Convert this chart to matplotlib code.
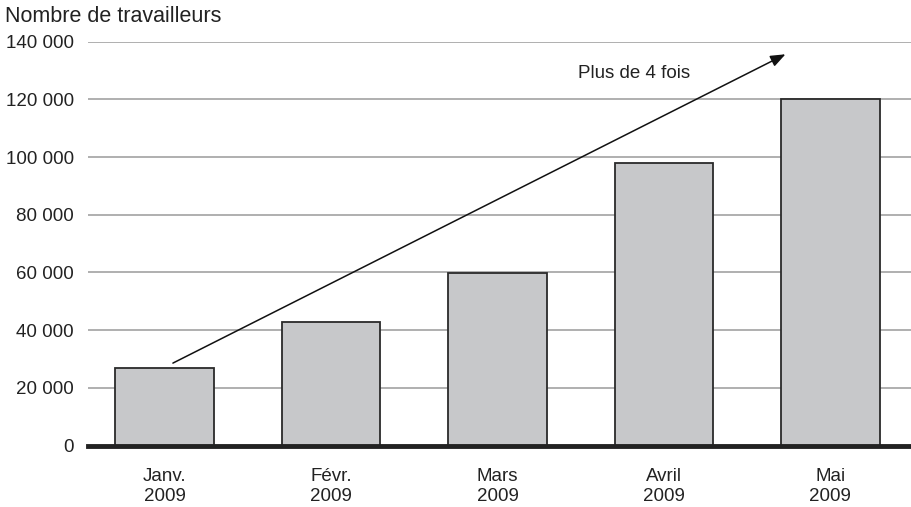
import matplotlib
matplotlib.use("Agg")
import matplotlib.pyplot as plt
import matplotlib.ticker as ticker

plt.rcParams["font.family"] = ["Liberation Sans", "DejaVu Sans"]

MONTHS = ["Janv.\n2009", "Févr.\n2009", "Mars\n2009", "Avril\n2009", "Mai\n2009"]
WORKERS = [27000, 43000, 59700, 98000, 120000]
Y_TICKS = list(range(0, 140001, 20000))

# flèche de tendance : du premier au dernier mois
TREND_START = (0.05, 28600)
TREND_END = (3.73, 135600)
TREND_LABEL = "Plus de 4 fois"


def fmt_thousands(v, _pos):
    return f"{int(v):,}".replace(",", " ")


fig = plt.figure(figsize=(9.12, 5.07), dpi=100)
ax = fig.add_axes([0.0965, 0.121, 0.9035, 0.797])

x = list(range(len(MONTHS)))
ax.bar(x, WORKERS, width=0.59, color="#c7c8ca", edgecolor="#2a2a2a",
       linewidth=1.3, zorder=3)

ax.set_xlim(-0.46, 4.49)
ax.set_ylim(0, 140000)
ax.set_yticks(Y_TICKS)
ax.yaxis.set_major_formatter(ticker.FuncFormatter(fmt_thousands))
ax.set_xticks(x)
ax.set_xticklabels(MONTHS, fontsize=13.5, color="#222222", linespacing=1.25)

ax.grid(axis="y", color="#9a9a9a", linewidth=1.1, zorder=0)
for side in ("top", "right", "left"):
    ax.spines[side].set_visible(False)
ax.spines["bottom"].set_linewidth(3.5)
ax.spines["bottom"].set_color("#222222")
ax.spines["bottom"].set_zorder(4)
ax.tick_params(axis="both", length=0, labelsize=13.5, colors="#222222")
ax.tick_params(axis="y", pad=10)
ax.tick_params(axis="x", pad=16)

ax.annotate("", xy=TREND_END, xytext=TREND_START,
            arrowprops=dict(arrowstyle="-|>,head_length=0.9,head_width=0.35",
                            color="#111111", linewidth=1.1, shrinkA=0, shrinkB=0),
            zorder=5)
ax.text(2.485, 129000, TREND_LABEL, fontsize=13.5, color="#222222",
        ha="left", va="center", zorder=5)

fig.text(0.005, 0.968, "Nombre de travailleurs", fontsize=15.5, color="#222222",
         ha="left", va="center")

fig.savefig("out.png", dpi=100)
